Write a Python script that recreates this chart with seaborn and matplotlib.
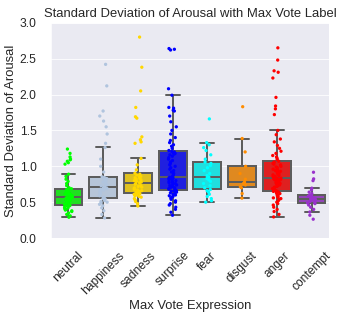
import numpy as np
import pandas as pd
import matplotlib
matplotlib.use("Agg")
import matplotlib.pyplot as plt
import seaborn as sns

# values (std of arousal per image, grouped by max vote label)
labels = ["neutral", "happiness", "sadness", "surprise", "fear", "disgust", "anger", "contempt"]
colors = ["lime", "lightsteelblue", "gold", "blue", "cyan", "darkorange", "red", "darkorchid"]

neutral = [0.29, 0.31, 0.33, 0.35, 0.37, 0.38, 0.39, 0.40, 0.41, 0.42, 0.43, 0.44, 0.45, 0.455, 0.46,
           0.466,
           0.47, 0.48, 0.49, 0.50, 0.51, 0.52, 0.525, 0.53, 0.54, 0.55, 0.555, 0.56, 0.565, 0.57,
           0.575,
           0.58, 0.59, 0.60, 0.61, 0.615, 0.62, 0.63, 0.64, 0.645, 0.65, 0.66, 0.67, 0.675, 0.68,
           0.687,
           0.70, 0.73, 0.76, 0.79, 0.82, 0.86, 0.89,
           1.03, 1.05, 1.07, 1.09, 1.10, 1.13, 1.18, 1.24]
happiness = [0.28, 0.33, 0.38, 0.42, 0.45, 0.47, 0.49, 0.50, 0.51, 0.52, 0.535, 0.545,
             0.553,
             0.57, 0.59, 0.60, 0.62, 0.63, 0.645, 0.66, 0.67, 0.68, 0.69, 0.70,
             0.705,
             0.715, 0.73, 0.74, 0.75, 0.76, 0.78, 0.79, 0.80, 0.82, 0.83, 0.845,
             0.853,
             0.92, 1.0, 1.1, 1.262,
             1.32, 1.45, 1.55, 1.63, 1.70, 1.77, 2.12, 2.42]
sadness = [0.447, 0.48, 0.51, 0.53, 0.55, 0.57, 0.58, 0.59, 0.60, 0.61, 0.615, 0.62, 0.625,
           0.632,
           0.64, 0.65, 0.66, 0.67, 0.68, 0.69, 0.70, 0.71, 0.72, 0.73, 0.75, 0.76,
           0.77,
           0.78, 0.79, 0.80, 0.81, 0.82, 0.83, 0.84, 0.85, 0.86, 0.87, 0.88, 0.89,
           0.903,
           0.95, 1.02, 1.11,
           1.32, 1.34, 1.37, 1.41, 1.67, 1.69, 1.82, 2.05, 2.38, 2.80]
surprise = [0.318, 0.36, 0.40, 0.43, 0.46, 0.48, 0.50, 0.52, 0.54, 0.56, 0.57, 0.58, 0.59, 0.60,
            0.61, 0.62, 0.63, 0.64, 0.65, 0.655, 0.66,
            0.664,
            0.67, 0.68, 0.69, 0.70, 0.71, 0.72, 0.73, 0.74, 0.75, 0.76, 0.77, 0.78, 0.79, 0.80,
            0.81, 0.82, 0.83, 0.835, 0.84, 0.845,
            0.848,
            0.86, 0.88, 0.90, 0.92, 0.94, 0.96, 0.98, 1.00, 1.02, 1.04, 1.06, 1.08, 1.10, 1.12,
            1.14, 1.16, 1.17, 1.18, 1.19, 1.20,
            1.207,
            1.22, 1.25, 1.28, 1.30, 1.33, 1.36, 1.40, 1.45, 1.50, 1.55, 1.62, 1.70, 1.77, 1.78,
            1.81, 1.82, 1.99,
            2.08, 2.62, 2.63, 2.64]
fear = [0.50, 0.52, 0.55, 0.58, 0.61, 0.64, 0.66,
        0.677,
        0.70, 0.73, 0.76, 0.79, 0.81, 0.83,
        0.848,
        0.87, 0.90, 0.94, 0.98, 1.01, 1.04,
        1.06,
        1.10, 1.16, 1.22, 1.26, 1.30, 1.33,
        1.66]
disgust = [0.557, 0.62, 0.70, 0.715, 0.74, 0.76, 0.78, 0.82, 0.90, 1.0, 1.20, 1.387, 1.83]
anger = [0.295, 0.33, 0.37, 0.40, 0.43, 0.46, 0.48, 0.50, 0.52, 0.54, 0.55, 0.56, 0.57, 0.58,
         0.59, 0.60, 0.61, 0.62, 0.63, 0.64, 0.645,
         0.65,
         0.66, 0.67, 0.68, 0.69, 0.70, 0.71, 0.72, 0.73, 0.74, 0.75, 0.76, 0.77, 0.78, 0.79,
         0.80, 0.81, 0.815, 0.82, 0.825, 0.83,
         0.834,
         0.85, 0.86, 0.87, 0.88, 0.89, 0.90, 0.91, 0.92, 0.93, 0.94, 0.95, 0.96, 0.98, 0.99,
         1.00, 1.02, 1.03, 1.04, 1.05, 1.06,
         1.07,
         1.09, 1.11, 1.13, 1.15, 1.18, 1.21, 1.25, 1.29, 1.34, 1.38, 1.44, 1.50,
         1.72, 1.80, 1.84, 1.96, 2.23, 2.31, 2.33, 2.48, 2.65]
contempt = [0.263, 0.318, 0.364, 0.40, 0.43, 0.46, 0.48,
            0.49,
            0.50, 0.51, 0.52, 0.53, 0.54, 0.545,
            0.55,
            0.555, 0.56, 0.57, 0.58, 0.585, 0.59,
            0.60,
            0.62, 0.64, 0.67, 0.695,
            0.80, 0.825, 0.917]

groups = [neutral, happiness, sadness, surprise, fear, disgust, anger, contempt]
df = pd.DataFrame({
    "label": np.repeat(labels, [len(g) for g in groups]),
    "std": np.concatenate(groups),
})
pal = dict(zip(labels, colors))

sns.set_style("darkgrid")
plt.rcParams["font.family"] = ["Liberation Sans", "DejaVu Sans"]

fig, ax = plt.subplots(figsize=(343 / 72, 320 / 72), dpi=72)
fig.subplots_adjust(left=0.149, right=0.959, top=0.929, bottom=0.256)

sns.boxplot(x="label", y="std", data=df, order=labels, hue="label", palette=pal,
            saturation=0.75, showfliers=False, linecolor="#5d5d5d", linewidth=2,
            width=0.8, legend=False, ax=ax)
np.random.seed(3)
sns.stripplot(x="label", y="std", data=df, order=labels, hue="label", palette=pal,
              jitter=0.12, size=3.3, legend=False, ax=ax)

ax.set_ylim(0, 3)
ax.set_yticks(np.arange(0, 3.01, 0.5))
ax.set_title("Standard Deviation of Arousal with Max Vote Label", fontsize=13)
ax.set_xlabel("Max Vote Expression", fontsize=13, labelpad=3)
ax.set_ylabel("Standard Deviation of Arousal", fontsize=13, labelpad=3)
ax.tick_params(axis="y", labelsize=12, pad=11)
ax.tick_params(axis="x", labelsize=12, pad=8)
plt.setp(ax.get_xticklabels(), rotation=45)

fig.savefig("out.png", dpi=72)
